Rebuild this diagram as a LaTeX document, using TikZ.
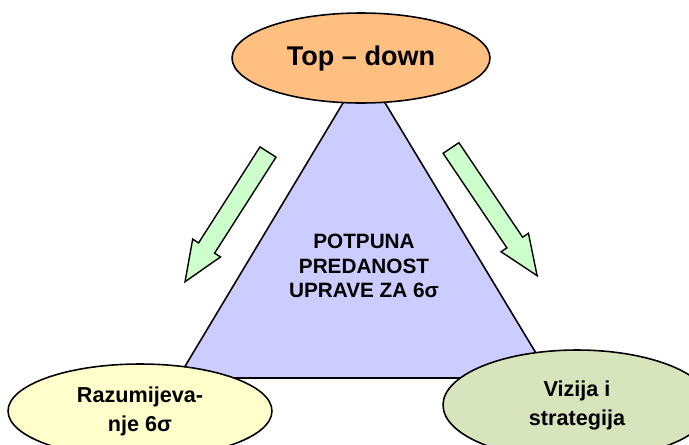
\documentclass[tikz,border=0pt]{standalone}
\usepackage{fontspec}
\setmainfont{Liberation Sans}
\usetikzlibrary{calc,shapes.geometric}
\definecolor{topOrange}{RGB}{255,191,128}
\definecolor{triLilac}{RGB}{204,204,255}
\definecolor{softYellow}{RGB}{255,255,204}
\definecolor{softOlive}{RGB}{216,228,188}
\definecolor{arrowGreen}{RGB}{204,255,204}
\tikzset{
  bubble/.style={ellipse,draw=black,line width=0.9pt,inner sep=0pt,align=center,font=\bfseries\fontsize{12.3}{16.5}\selectfont},
  greenarrow/.pic={\draw[fill=arrowGreen,line width=0.8pt,line join=miter] (0,-9.5) -- (114,-9.5) -- (114,-16.5) -- (154,0) -- (114,16.5) -- (114,9.5) -- (0,9.5) -- cycle;}
}

\begin{document}
\begin{tikzpicture}[x=0.02cm,y=-0.02cm]
\clip (0,0) rectangle (689,444);
% trokut u sredini
\draw[fill=triLilac,line width=0.9pt] (364,68) -- (551,378) -- (178,378) -- cycle;
\node[font=\bfseries\fontsize{11.8}{13.8}\selectfont,align=center] (predanost) at (364,266) {POTPUNA\\PREDANOST\\UPRAVE ZA 6σ};
% tri elipse
\node[bubble,fill=topOrange,minimum width=5.16cm,minimum height=1.8cm,font=\bfseries\fontsize{15.4}{17}\selectfont] (topdown) at (361,58) {Top – down};
\node[bubble,fill=softYellow,minimum width=5.28cm,minimum height=1.88cm] (razumij) at (140,411) {Razumijeva-\\nje 6σ};
\node[bubble,fill=softOlive,minimum width=5.36cm,minimum height=2.2cm] (vizija) at (577,405) {Vizija i\\strategija};
% strelice
\pic[rotate=237.4] at (268,152) {greenarrow};
\pic[rotate=304] at (451,148) {greenarrow};
\end{tikzpicture}
\end{document}
